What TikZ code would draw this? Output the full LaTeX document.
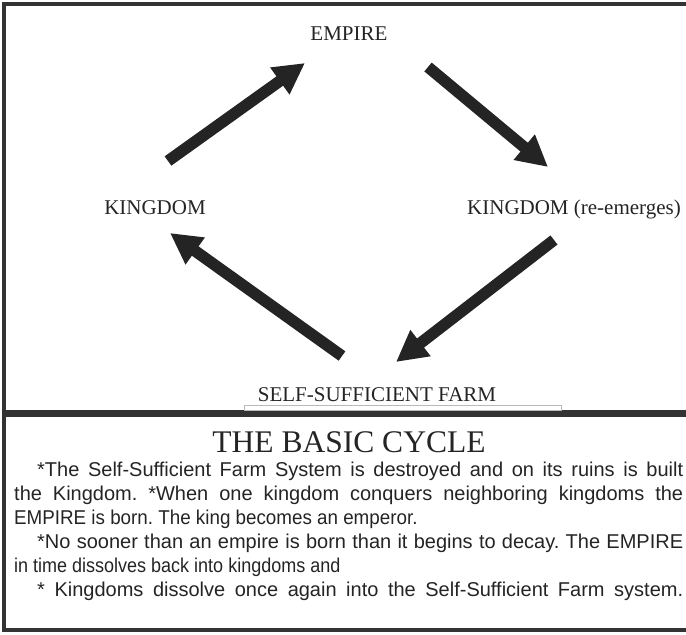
\documentclass[tikz,border=0pt]{standalone}
\usepackage{fontspec}
\setmainfont{Liberation Serif}
\newfontfamily\bodyfont{Liberation Sans}
\usepackage{tikz}
\usetikzlibrary{arrows.meta}
\definecolor{ink}{HTML}{242424}
\definecolor{rule}{HTML}{333333}
\frenchspacing

\begin{document}
\begin{tikzpicture}
		[x=1pt, y=-1pt, inner sep=0pt,
		stage/.style	= {font=\fontsize{21}{24}\selectfont, text=ink, anchor=base},
		turn/.style		= {draw=ink, line width=11.5pt, -{Triangle[length=31pt 0 0, width=31pt 0 0]}},
		frame/.style	= {draw=rule, line width=4pt},
		heading/.style	= {font=\fontsize{31.5}{36}\selectfont, text=ink, anchor=base},
		body/.style		= {font=\bodyfont\fontsize{20}{24}\selectfont, text=ink, anchor=base west}]
		
		\useasboundingbox (0, 0) rectangle (686, 635);
		
		\node at (349, 40)		[stage]		(empire)	{EMPIRE};
		\node at (155, 214)		[stage]		(king)		{KINGDOM};
		\node at (574, 214)		[stage]		(reking)	{KINGDOM (re-emerges)};
		\node at (377, 401)		[stage]		(farm)		{SELF-SUFFICIENT FARM};
		
		\coordinate (t1) at (168, 161);		\coordinate (h1) at (305, 63);
		\coordinate (t2) at (428, 67);		\coordinate (h2) at (548, 167);
		\coordinate (t3) at (554, 240);		\coordinate (h3) at (396, 362);
		\coordinate (t4) at (342, 356);		\coordinate (h4) at (170, 233);
		
		\draw [turn] (t1) -- (h1);
		\draw [turn] (t2) -- (h2);
		\draw [turn] (t3) -- (h3);
		\draw [turn] (t4) -- (h4);
		
		\draw [frame] (686, 4) -- (4, 4) -- (4, 630) -- (686, 630);
		\draw [draw=rule, line width=7pt] (4, 413) -- (686, 413);
		\draw [gray!55, line width=0.7pt] (244, 405) rectangle (561, 410);
		
		\node at (349, 452)		[heading]	(title)		{THE BASIC CYCLE};
		
		\node at (37, 476)		[body]		(l1)	{\makebox[646pt][s]{*The Self-Sufficient Farm System is destroyed and on its ruins is built}};
		\node at (14, 500)		[body]		(l2)	{\makebox[669pt][s]{the Kingdom. *When one kingdom conquers neighboring kingdoms the}};
		\node at (14, 524)		[body]		(l3)	{\scalebox{0.94}[1]{EMPIRE is born. The king becomes an emperor.}};
		\node at (37, 548)		[body]		(l4)	{\makebox[646pt][s]{*No sooner than an empire is born than it begins to decay. The EMPIRE}};
		\node at (14, 572)		[body]		(l5)	{\scalebox{0.9}[1]{in time dissolves back into kingdoms and}};
		\node at (37, 596)		[body]		(l6)	{\makebox[646pt][s]{* Kingdoms dissolve once again into the Self-Sufficient Farm system.}};
		
\end{tikzpicture}
\end{document}
